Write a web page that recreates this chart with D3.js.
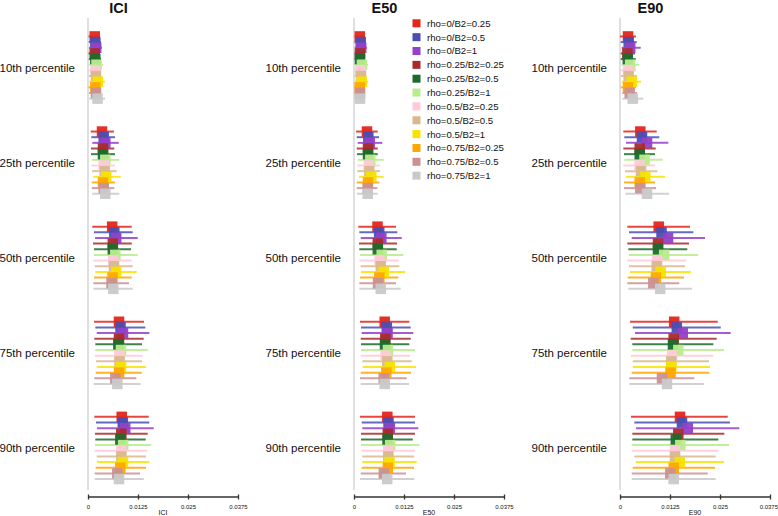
<!DOCTYPE html>
<html><head><meta charset="utf-8">
<script src="https://cdn.jsdelivr.net/npm/d3@7/dist/d3.min.js"></script>
<style>body{margin:0;background:#fff}svg{display:block;font-family:"Liberation Sans",Arial,sans-serif}</style>
</head><body><svg id="c" width="778" height="516"></svg>
<script>
// values are in thousandths (x 1e-3)
const panels = ["ICI", "E50", "E90"];
const percentiles = ["10th percentile", "25th percentile", "50th percentile", "75th percentile", "90th percentile"];
const series = ["rho=0/B2=0.25","rho=0/B2=0.5","rho=0/B2=1","rho=0.25/B2=0.25","rho=0.25/B2=0.5","rho=0.25/B2=1","rho=0.5/B2=0.25","rho=0.5/B2=0.5","rho=0.5/B2=1","rho=0.75/B2=0.25","rho=0.75/B2=0.5","rho=0.75/B2=1"];
const colors = ["#e3261c","#4a4fb4","#9440c8","#a82a2a","#1c6b2c","#b9ec8c","#ffc9d9","#d9b88f","#f7e300","#ffa600","#c99194","#c9c9c9"];
const xTicks = [0, 0.0125, 0.025, 0.0375];

const iciMid = [[1.68,1.83,2.05,1.68,1.83,2.13,1.83,2.0,2.45,1.83,2.0,2.38],[3.5,3.93,4.33,3.75,3.75,4.33,3.93,4.18,4.58,3.75,3.93,4.33],[6.05,6.58,7.05,6.2,6.2,6.83,6.3,6.5,7.05,6.13,5.88,6.33],[7.75,8.13,8.75,7.75,7.58,8.25,7.83,7.88,8.25,7.75,6.83,7.33],[8.43,8.7,9.3,8.33,8.08,8.8,8.33,8.33,8.75,8.08,7.33,7.75]];
const iciLow = [[0.13,0.2,0.25,0.13,0.2,0.25,0.2,0.25,0.3,0.13,0.25,0.3],[0.68,0.83,1.08,0.75,0.75,1.0,0.83,1.0,1.33,0.93,0.93,1.08],[1.08,1.5,1.75,1.25,1.5,1.5,1.33,1.68,1.83,1.5,1.33,1.33],[1.5,1.83,2.18,1.58,1.83,1.83,1.68,2.0,2.18,1.93,1.58,1.43],[1.58,2.0,2.25,1.75,1.83,1.75,1.58,2.18,2.25,1.93,1.68,1.68]];
const iciHigh = [[3.0,3.25,3.5,3.0,3.25,3.75,3.25,3.25,4.25,3.25,3.25,4.25],[6.5,6.75,7.68,6.58,6.75,7.83,6.75,7.18,8.18,6.75,6.58,7.83],[10.93,11.18,12.43,10.93,10.75,12.43,10.93,11.18,12.18,10.93,10.25,11.18],[14.0,14.33,15.33,13.93,13.5,14.93,13.68,13.5,14.5,13.43,12.08,13.18],[15.18,15.33,16.43,14.93,14.43,15.83,14.83,14.5,15.33,14.5,13.0,13.93]];

const e50Mid = [[1.45,1.68,1.8,1.5,1.5,2.0,1.58,1.75,1.93,1.45,1.5,1.5],[3.25,3.58,3.93,3.5,3.5,4.08,3.68,3.83,4.33,3.5,3.43,3.43],[5.88,6.3,6.83,5.95,5.95,6.93,6.38,6.7,7.43,6.33,6.0,6.68],[7.68,8.2,8.38,7.83,7.75,8.5,7.88,8.33,8.95,8.08,7.43,7.68],[8.33,8.63,8.95,8.45,8.38,9.05,8.55,8.58,8.88,8.45,7.45,8.3]];
const e50Low = [[0.13,0.13,0.2,0.13,0.13,0.2,0.13,0.2,0.25,0.13,0.13,0.13],[0.5,0.68,0.93,0.68,0.75,0.93,0.83,0.83,1.25,0.68,0.68,0.68],[1.08,1.33,1.68,1.25,1.33,1.5,1.33,1.68,1.75,1.5,1.33,1.33],[1.5,1.75,1.93,1.68,1.75,1.75,1.68,2.08,2.18,1.68,1.5,1.68],[1.5,1.93,2.08,1.75,1.75,1.75,1.83,2.08,2.08,1.93,1.68,1.5]];
const e50High = [[2.75,3.0,3.25,2.75,2.75,3.5,3.0,3.0,3.5,2.75,2.75,2.75],[5.93,6.25,7.08,5.93,5.93,7.43,6.5,6.5,7.43,6.33,5.83,5.93],[10.5,10.83,11.93,10.75,10.68,12.33,11.18,11.33,12.75,11.08,10.5,11.68],[13.83,14.18,14.83,14.18,13.83,15.25,14.0,14.43,15.5,14.25,13.18,13.75],[15.25,15.25,16.08,15.25,14.68,16.33,15.25,15.0,15.68,15.0,13.0,15.08]];

const e90Mid = [[2.0,2.18,2.55,1.83,1.95,2.55,2.0,2.18,2.93,2.0,2.43,3.18],[5.08,5.5,6.75,4.93,4.93,6.13,4.88,5.25,6.33,4.93,5.08,6.75],[9.68,10.38,12.0,9.5,9.5,11.05,9.3,9.18,10.18,8.98,8.33,10.05],[13.55,14.2,15.68,13.43,13.25,14.58,13.0,12.83,12.83,12.63,10.5,11.75],[15.0,15.5,16.95,14.58,13.95,15.08,13.75,13.75,14.93,13.43,12.58,13.43]];
const e90Low = [[0.0,0.18,0.43,0.18,0.18,0.43,0.18,0.25,0.43,0.18,0.58,0.58],[0.83,1.08,1.5,0.83,1.0,1.08,0.83,1.25,1.5,1.0,1.0,1.33],[1.83,2.25,2.93,1.83,2.08,2.25,1.83,2.25,2.5,1.93,1.83,2.08],[2.5,3.18,3.75,2.68,3.08,3.08,2.75,3.18,3.18,2.93,2.33,2.33],[2.75,3.58,4.0,3.08,3.08,2.93,2.93,3.58,3.93,3.18,2.93,2.93]];
const e90High = [[4.0,4.18,5.18,3.75,3.93,4.83,4.0,4.25,5.25,4.0,4.25,5.83],[9.18,9.83,12.08,8.93,8.75,10.68,8.75,9.33,11.25,8.75,9.0,12.25],[17.5,18.33,21.25,17.25,16.83,19.58,16.5,16.25,17.75,16.0,14.83,18.0],[24.43,25.18,27.68,24.18,23.33,26.0,23.33,22.25,22.5,22.33,18.58,21.0],[26.93,27.5,29.83,26.08,24.58,27.25,24.58,23.93,26.0,23.75,21.93,23.93]];

const panelData = [
  {mid: iciMid, low: iciLow, high: iciHigh},
  {mid: e50Mid, low: e50Low, high: e50High},
  {mid: e90Mid, low: e90Low, high: e90High}
];

const svg = d3.select("#c");
const panelX0 = [88, 354, 620];
const plotW = 150;
const y = d3.scaleBand().domain(percentiles).range([20, 495.5]);
const row = d3.scalePoint().domain(series).range([-31.1, 31.1]);
const color = d3.scaleOrdinal().domain(series).range(colors);
const sq = 10.5;

panels.forEach((name, pi) => {
  const x0 = panelX0[pi];
  const x = d3.scaleLinear().domain([0, 0.0375]).range([x0, x0 + plotW]);
  const g = svg.append("g");
  const pd = panelData[pi];

  g.append("line").attr("x1", x(0)).attr("x2", x(0)).attr("y1", 18).attr("y2", 490)
    .attr("stroke", "#d4d4d4").attr("stroke-width", 1.5);

  g.append("text").attr("x", x0 + 30.5).attr("y", 13).attr("text-anchor", "middle")
    .attr("font-weight", "bold").attr("font-size", 14.5).attr("fill", "#111").text(name);

  percentiles.forEach(p => {
    g.append("text").attr("x", x0 - 13).attr("y", y(p) + y.bandwidth() / 2 + 4)
      .attr("text-anchor", "end").attr("font-size", 11.5).attr("fill", "#111").text(p);
  });

  const recs = [];
  percentiles.forEach((p, ci) => series.forEach((s, si) => {
    recs.push({p, s, mid: pd.mid[ci][si] / 1000, low: pd.low[ci][si] / 1000, high: pd.high[ci][si] / 1000});
  }));
  const cy = d => y(d.p) + y.bandwidth() / 2 + row(d.s);

  g.selectAll("line.ci").data(recs).join("line").attr("class", "ci")
    .attr("x1", d => x(d.low)).attr("x2", d => x(d.high))
    .attr("y1", cy).attr("y2", cy)
    .attr("stroke", d => color(d.s)).attr("stroke-width", 2).attr("stroke-opacity", 0.85);

  g.selectAll("rect.pt").data(recs).join("rect").attr("class", "pt")
    .attr("x", d => x(d.mid) - sq / 2).attr("y", d => cy(d) - sq / 2)
    .attr("width", sq).attr("height", sq)
    .attr("fill", d => color(d.s)).attr("fill-opacity", 0.95);

  const ax = g.append("g").attr("transform", "translate(0,496.5)")
    .call(d3.axisBottom(x).tickValues(xTicks).tickFormat(d => d === 0 ? "0" : String(d)).tickSize(3).tickSizeOuter(0));
  ax.select(".domain").attr("stroke", "#333").attr("stroke-width", 1.3);
  ax.selectAll(".tick line").attr("stroke", "#333").attr("stroke-width", 1.3).attr("y1", -2).attr("y2", 3);
  ax.selectAll(".tick text").attr("font-size", 6).attr("fill", "#111").attr("y", 8).attr("font-family", "Liberation Sans, Arial, sans-serif");
  if (pi === panels.length - 1) {
    ax.selectAll(".tick text").filter(d => d === 0.0375).attr("text-anchor", "end").attr("x", 7.5);
  }
  g.append("text").attr("x", x0 + 75).attr("y", 514.5).attr("text-anchor", "middle")
    .attr("font-size", 7).attr("fill", "#111").text(name);
});

const lg = svg.append("g");
series.forEach((s, i) => {
  const yy = 23.3 + i * 13.85;
  lg.append("rect").attr("x", 412.5).attr("y", yy - 4).attr("width", 8).attr("height", 8).attr("fill", color(s));
  lg.append("text").attr("x", 427).attr("y", yy + 3.4).attr("font-size", 9.6).attr("fill", "#111").text(s);
});
</script></body></html>
